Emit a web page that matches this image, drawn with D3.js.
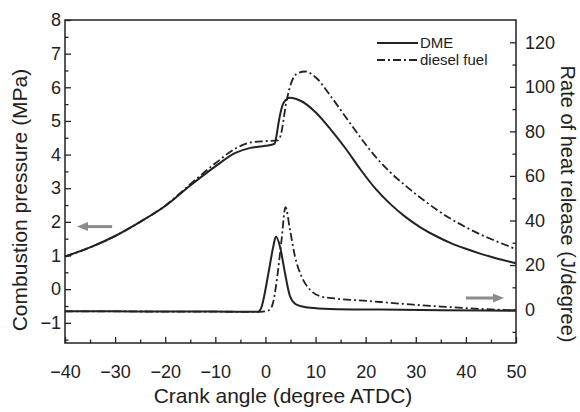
<!DOCTYPE html>
<html>
<head>
<meta charset="utf-8">
<script src="https://cdn.jsdelivr.net/npm/d3@7"></script>
<style>
  html, body { margin: 0; padding: 0; background: #fff; }
  svg { display: block; font-family: Arial, "Liberation Sans", sans-serif; }
</style>
</head>
<body>
<svg id="chart" width="580" height="412"></svg>
<script>
// ---------- data ----------
const xLabel = "Crank angle (degree ATDC)";
const yLeftLabel = "Combustion pressure (MPa)";
const yRightLabel = "Rate of heat release (J/degree)";
const seriesNames = ["DME", "diesel fuel"];

const xTicks = [-40, -30, -20, -10, 0, 10, 20, 30, 40, 50];
const yLeftTicks = [-1, 0, 1, 2, 3, 4, 5, 6, 7, 8];
const yRightTicks = [0, 20, 40, 60, 80, 100, 120];

// combustion pressure (MPa)
const dmePressureAngle = [-40, -35, -30, -25, -20, -15, -10, -6, -3, 0, 1.8, 2.2, 2.6, 3.6, 4.9, 7, 10, 13, 16, 19, 22, 25, 28, 31, 34, 37, 40, 43, 46, 50];
const dmePressure      = [0.97, 1.24, 1.58, 2.0, 2.47, 3.08, 3.65, 4.05, 4.2, 4.26, 4.32, 4.55, 4.93, 5.53, 5.69, 5.6, 5.26, 4.75, 4.18, 3.55, 2.98, 2.52, 2.14, 1.83, 1.58, 1.37, 1.2, 1.05, 0.92, 0.77];

const dieselPressureAngle = [-40, -35, -30, -25, -20, -15, -10, -6, -3, 0, 2.5, 3.0, 4.24, 5.24, 6.24, 7.9, 10, 13, 16, 19, 22, 25, 28, 31, 34, 37, 40, 43, 46, 50];
const dieselPressure      = [0.97, 1.24, 1.58, 2.0, 2.48, 3.12, 3.74, 4.18, 4.36, 4.4, 4.42, 4.55, 5.62, 6.17, 6.4, 6.47, 6.3, 5.74, 5.12, 4.5, 3.93, 3.46, 3.07, 2.71, 2.38, 2.09, 1.84, 1.62, 1.43, 1.19];

// rate of heat release (J/degree)
const dmeHeatAngle = [-40, -30, -20, -10, -5, -1.5, -0.8, -0.4, 0.6, 1.57, 2.1, 2.9, 3.9, 4.9, 6.2, 8.9, 12.9, 22.9, 35, 50];
const dmeHeat      = [-0.8, -0.8, -0.9, -0.9, -1.0, -1.0, 1.0, 4.5, 16.4, 28.3, 32.8, 28.3, 16.4, 6.0, 2.2, 0.8, 0.3, 0.0, -0.3, -0.5];

const dieselHeatAngle = [-40, -30, -20, -10, -5, -1, 0, 0.9, 1.5, 2.2, 3.2, 4.0, 4.9, 5.9, 7.2, 8.9, 10.9, 14.2, 19.5, 22.9, 29.5, 36.2, 42.8, 50];
const dieselHeat      = [-0.8, -0.8, -0.9, -0.9, -1.0, -1.0, -0.8, 0, 3, 12, 31, 46, 35.8, 23.8, 14.9, 8.9, 6.0, 4.9, 4.0, 3.4, 2.2, 1.2, 0.3, -0.3];

// axis-indicator arrows (data units)
const leftArrowAngles = [-30.6, -37.6];   // from, to (points left)
const leftArrowValue = 1.86;             // MPa
const rightArrowAngles = [40.0, 47.6];   // from, to (points right)
const rightArrowValue = 5.2;             // J/degree

// ---------- layout ----------
const svg = d3.select("#chart");
const L = 65, R = 516, T = 20, B = 343;
const ink = "#222";
const x = d3.scaleLinear([-40, 50], [L, R]);
const yL = d3.scaleLinear([-1.6, 8], [B, T]);
const yR = d3.scaleLinear([-15, 130], [B, T]);

function styleAxis(g, fs) {
  g.select(".domain").remove();
  g.selectAll("line").attr("stroke", ink).attr("stroke-width", 1.3);
  g.selectAll("text").attr("fill", ink).style("font-size", fs + "px");
}
const tickFS = 18;

// bottom
svg.append("g").attr("transform", `translate(0,${B})`)
  .call(d3.axisBottom(x).tickValues(xTicks).tickSize(-6).tickPadding(22).tickFormat(d3.format("d")))
  .call(g => styleAxis(g, tickFS));
svg.append("g").attr("transform", `translate(0,${B})`)
  .call(d3.axisBottom(x).tickValues(d3.range(-35, 50, 10)).tickSize(-3.5).tickFormat(""))
  .call(g => styleAxis(g, tickFS));

// left
svg.append("g").attr("transform", `translate(${L},0)`)
  .call(d3.axisLeft(yL).tickValues(yLeftTicks).tickSize(-6).tickPadding(4).tickFormat(d3.format("d")))
  .call(g => styleAxis(g, tickFS));
svg.append("g").attr("transform", `translate(${L},0)`)
  .call(d3.axisLeft(yL).tickValues(d3.range(-1.5, 8, 1)).tickSize(-3.5).tickFormat(""))
  .call(g => styleAxis(g, tickFS));

// right
svg.append("g").attr("transform", `translate(${R},0)`)
  .call(d3.axisRight(yR).tickValues(yRightTicks).tickSize(-6).tickPadding(9).tickFormat(d3.format("d")))
  .call(g => styleAxis(g, tickFS));
svg.append("g").attr("transform", `translate(${R},0)`)
  .call(d3.axisRight(yR).tickValues(d3.range(-10, 130, 20)).tickSize(-3.5).tickFormat(""))
  .call(g => styleAxis(g, tickFS));

// frame
svg.append("rect").attr("x", L).attr("y", T).attr("width", R - L).attr("height", B - T)
  .attr("fill", "none").attr("stroke", ink).attr("stroke-width", 1.5);

// titles
svg.append("text").attr("x", 283).attr("y", 403).attr("text-anchor", "middle")
  .style("font-size", "21px").attr("fill", ink).text(xLabel);
svg.append("text").attr("transform", "translate(27,200) rotate(-90)").attr("text-anchor", "middle")
  .style("font-size", "21px").attr("fill", ink).text(yLeftLabel);
svg.append("text").attr("transform", "translate(561,204) rotate(90)").attr("text-anchor", "middle")
  .style("font-size", "20px").attr("fill", ink).text(yRightLabel);

// curves
const dashDot = "8,3,2,3";
function drawCurve(angles, vals, yScale, dashed) {
  const pts = angles.map((a, i) => [a, vals[i]]);
  const line = d3.line().x(d => x(d[0])).y(d => yScale(d[1])).curve(d3.curveMonotoneX);
  svg.append("path").datum(pts).attr("d", line)
    .attr("fill", "none").attr("stroke", ink).attr("stroke-width", dashed ? 1.8 : 2)
    .attr("stroke-dasharray", dashed ? dashDot : null).attr("stroke-linejoin", "round");
}
drawCurve(dieselPressureAngle, dieselPressure, yL, true);
drawCurve(dmePressureAngle, dmePressure, yL, false);
drawCurve(dieselHeatAngle, dieselHeat, yR, true);
drawCurve(dmeHeatAngle, dmeHeat, yR, false);

// arrows
function arrow(a0, a1, yv) {
  const x0 = x(a0), x1 = x(a1), y = yv;
  const dir = Math.sign(x1 - x0);
  const head = 11, hw = 4.5;
  svg.append("line").attr("x1", x0).attr("x2", x1 - dir * head + dir).attr("y1", y).attr("y2", y)
    .attr("stroke", "#8c8c8c").attr("stroke-width", 3);
  svg.append("path").attr("d", `M${x1},${y} L${x1 - dir * head},${y - hw} L${x1 - dir * head},${y + hw} Z`)
    .attr("fill", "#8c8c8c");
}
arrow(leftArrowAngles[0], leftArrowAngles[1], yL(leftArrowValue));
arrow(rightArrowAngles[0], rightArrowAngles[1], yR(rightArrowValue));

// legend
const lg = svg.append("g");
const legY = [43, 60];
seriesNames.forEach((name, i) => {
  lg.append("line").attr("x1", 377).attr("x2", 418).attr("y1", legY[i]).attr("y2", legY[i])
    .attr("stroke", ink).attr("stroke-width", i ? 1.8 : 2).attr("stroke-dasharray", i ? dashDot : null);
  lg.append("text").attr("x", 420).attr("y", legY[i] + 5.2).style("font-size", "15px")
    .attr("fill", ink).text(name);
});
</script>
</body>
</html>
